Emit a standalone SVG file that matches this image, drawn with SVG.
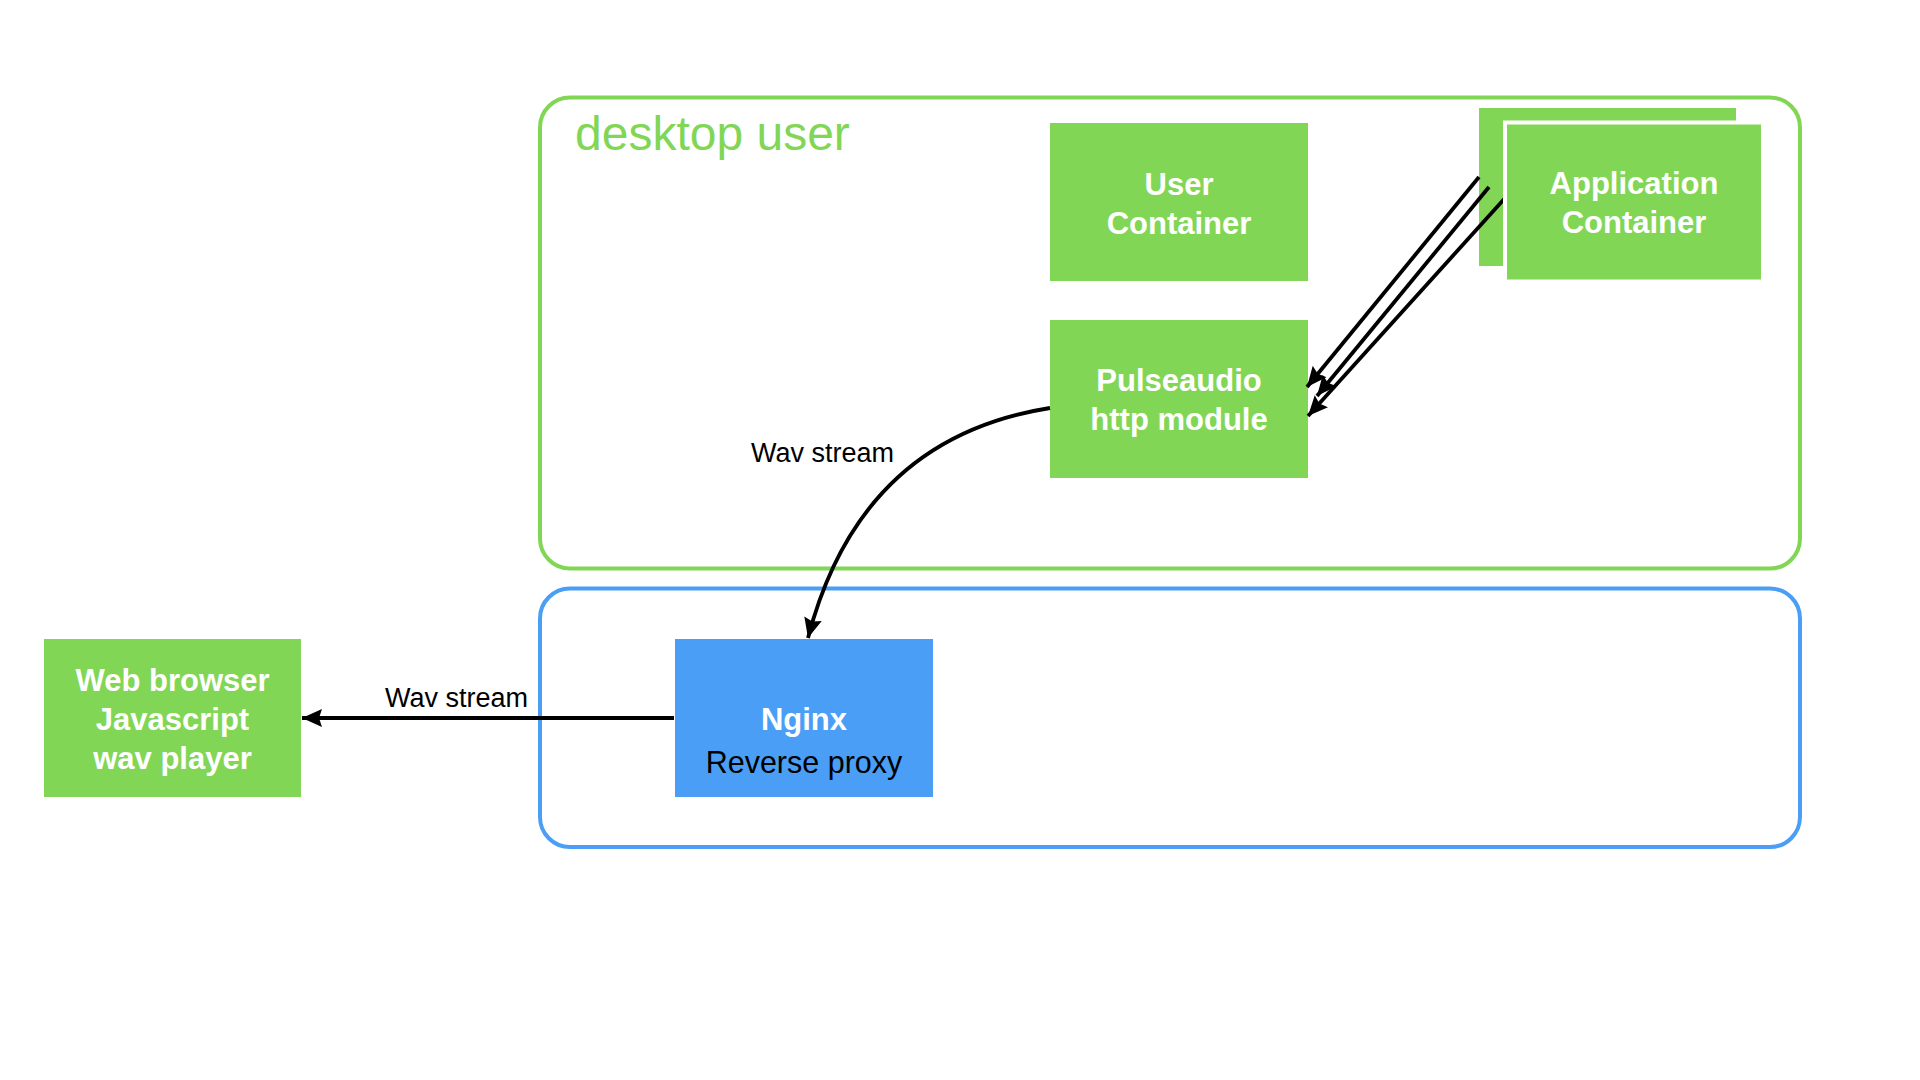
<svg xmlns="http://www.w3.org/2000/svg" width="1920" height="1080" viewBox="0 0 1920 1080">
  <defs>
    <marker id="arrow" markerUnits="userSpaceOnUse" markerWidth="22" markerHeight="18" refX="20" refY="9" orient="auto">
      <path d="M0,0 L20,9 L0,18 L3,9 Z" fill="#000"/>
    </marker>
    <style>
      .green { fill: #82D656; }
      .blue { fill: #4A9EF6; }
      .lbl { font-family: "Liberation Sans", Arial, sans-serif; font-size: 31px; font-weight: bold; fill: #fff; text-anchor: middle; }
      .reg { font-family: "Liberation Sans", Arial, sans-serif; font-size: 30.5px; fill: #000; text-anchor: middle; }
      .edge { font-family: "Liberation Sans", Arial, sans-serif; font-size: 27px; fill: #000; }
      .conn { fill: none; stroke: #000; stroke-width: 3.8; marker-end: url(#arrow); }
    </style>
  </defs>
  <rect width="1920" height="1080" fill="#fff"/>

  <g id="desktop-user">
    <rect x="540" y="97.5" width="1260" height="471" rx="30" ry="30" fill="none" stroke="#82D656" stroke-width="4"/>
    <text x="575" y="150" font-family="'Liberation Sans', Arial, sans-serif" font-size="48" fill="#82D656">desktop user</text>
  </g>
  <g id="proxy-zone">
    <rect x="540" y="588.5" width="1260" height="258.5" rx="30" ry="30" fill="none" stroke="#4A9EF6" stroke-width="4"/>
  </g>

  <g id="user-container">
    <rect class="green" x="1050" y="123" width="258" height="158"/>
    <text class="lbl" x="1179" y="195">User</text>
    <text class="lbl" x="1179" y="234">Container</text>
  </g>
  <g id="pulseaudio">
    <rect class="green" x="1050" y="320" width="258" height="158"/>
    <text class="lbl" x="1179" y="391">Pulseaudio</text>
    <text class="lbl" x="1179" y="430">http module</text>
  </g>
  <g id="application-container-back">
    <rect class="green" x="1479" y="108" width="257" height="158"/>
  </g>

  <g id="connectors">
    <line class="conn" x1="1479" y1="177" x2="1307" y2="387"/>
    <line class="conn" x1="1489" y1="187" x2="1317" y2="396"/>
    <line class="conn" x1="1506" y1="197" x2="1308" y2="416"/>
    <path class="conn" d="M1050,408 Q860,438 808,638"/>
    <line class="conn" x1="674" y1="718" x2="302" y2="718"/>
    <text class="edge" x="751" y="462">Wav stream</text>
    <text class="edge" x="385" y="707">Wav stream</text>
  </g>

  <g id="application-container">
    <rect class="green" x="1505" y="122.5" width="258" height="159" stroke="#fff" stroke-width="4"/>
    <text class="lbl" x="1634" y="194">Application</text>
    <text class="lbl" x="1634" y="233">Container</text>
  </g>
  <g id="nginx">
    <rect class="blue" x="675" y="639" width="258" height="158"/>
    <text class="lbl" x="804" y="730">Nginx</text>
    <text class="reg" x="804" y="773">Reverse proxy</text>
  </g>
  <g id="web-browser">
    <rect class="green" x="44" y="639" width="257" height="158"/>
    <text class="lbl" x="172.5" y="691">Web browser</text>
    <text class="lbl" x="172.5" y="730">Javascript</text>
    <text class="lbl" x="172.5" y="769">wav player</text>
  </g>
</svg>
